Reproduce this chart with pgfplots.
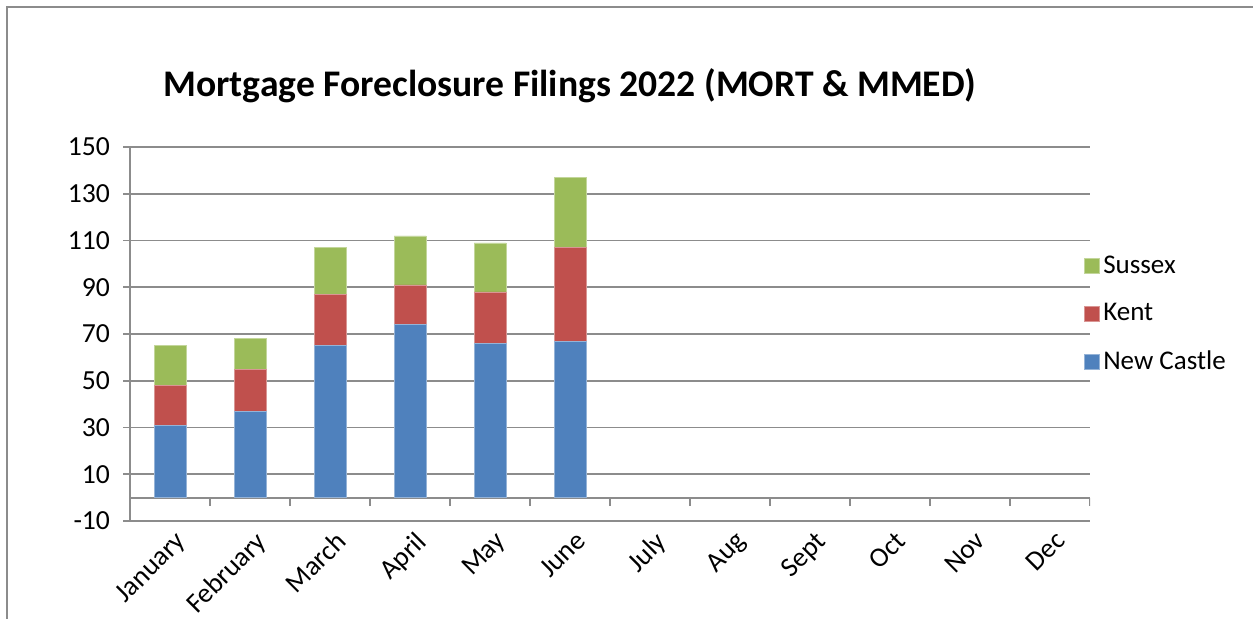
\documentclass[border=0pt]{standalone}
\usepackage{pgfplots}
\pgfplotsset{compat=1.18}
\usepackage{fontspec}
\setmainfont{Carlito}
\definecolor{ncblue}{HTML}{4F81BD}
\definecolor{kentred}{HTML}{C0504D}
\definecolor{susgreen}{HTML}{9BBB59}
\definecolor{gridgray}{HTML}{8C8C8C}
\begin{document}
\begin{tikzpicture}
\useasboundingbox (0,0) rectangle (626.5pt,309.5pt);
\draw[gridgray, line width=0.9pt] (3.5pt,-2pt) -- (3.5pt,306pt) -- (630pt,306pt);
\node[font=\bfseries\fontsize{18.8}{22}\selectfont, anchor=base] at (285pt,261pt) {Mortgage Foreclosure Filings 2022 (MORT \& MMED)};
\begin{axis}[
  at={(65pt,49pt)}, anchor=south west,
  scale only axis, width=480pt, height=187pt,
  ybar stacked, bar width=16pt,
  xmin=-0.5, xmax=11.5, ymin=-10, ymax=150,
  ytick={-10,10,...,150},
  xtick={0,...,11},
  xticklabels={January,February,March,April,May,June,July,Aug,Sept,Oct,Nov,Dec},
  xticklabel style={rotate=45, anchor=north east, inner sep=1pt, xshift=2pt, yshift=-1pt},
  x tick style={draw=none},
  axis x line=bottom, axis y line=left,
  axis line style={-, gridgray, line width=0.9pt},
  y tick style={gridgray, line width=0.9pt},
  tick align=outside, major tick length=3.5pt,
  ymajorgrids, grid style={gridgray, line width=0.9pt},
  tick label style={font=\fontsize{13.8}{16}\selectfont},
  /pgf/number format/assume math mode=true,
  yticklabel style={xshift=-3pt},
  legend style={at={(axis description cs:0.993,0.553)}, anchor=west, draw=none, fill=none,
    font=\fontsize{13.5}{16}\selectfont, row sep=9.5pt, inner sep=0pt,
    nodes={inner sep=2pt}},
  legend cell align=left,
  reverse legend,
  legend image code/.code={\fill[#1] (0pt,-3.75pt) rectangle (7.5pt,3.75pt);},
  enlarge x limits=false,
]
\addplot[fill=ncblue, draw=ncblue!60!white, line width=0.3pt] coordinates {(0,31) (1,37) (2,65) (3,74) (4,66) (5,67)};
\addplot[fill=kentred, draw=kentred!60!white, line width=0.3pt] coordinates {(0,17) (1,18) (2,22) (3,17) (4,22) (5,40)};
\addplot[fill=susgreen, draw=susgreen!60!white, line width=0.3pt] coordinates {(0,17) (1,13) (2,20) (3,21) (4,21) (5,30)};
\legend{New Castle,Kent,Sussex}
\draw[gridgray, line width=0.9pt] (axis cs:-0.5,0) -- (axis cs:11.5,0);
\pgfplotsinvokeforeach{-0.5,0.5,...,11.5}{\draw[gridgray, line width=0.9pt] (axis cs:#1,0) -- ([yshift=-4pt]axis cs:#1,0);}
\end{axis}
\end{tikzpicture}
\end{document}
